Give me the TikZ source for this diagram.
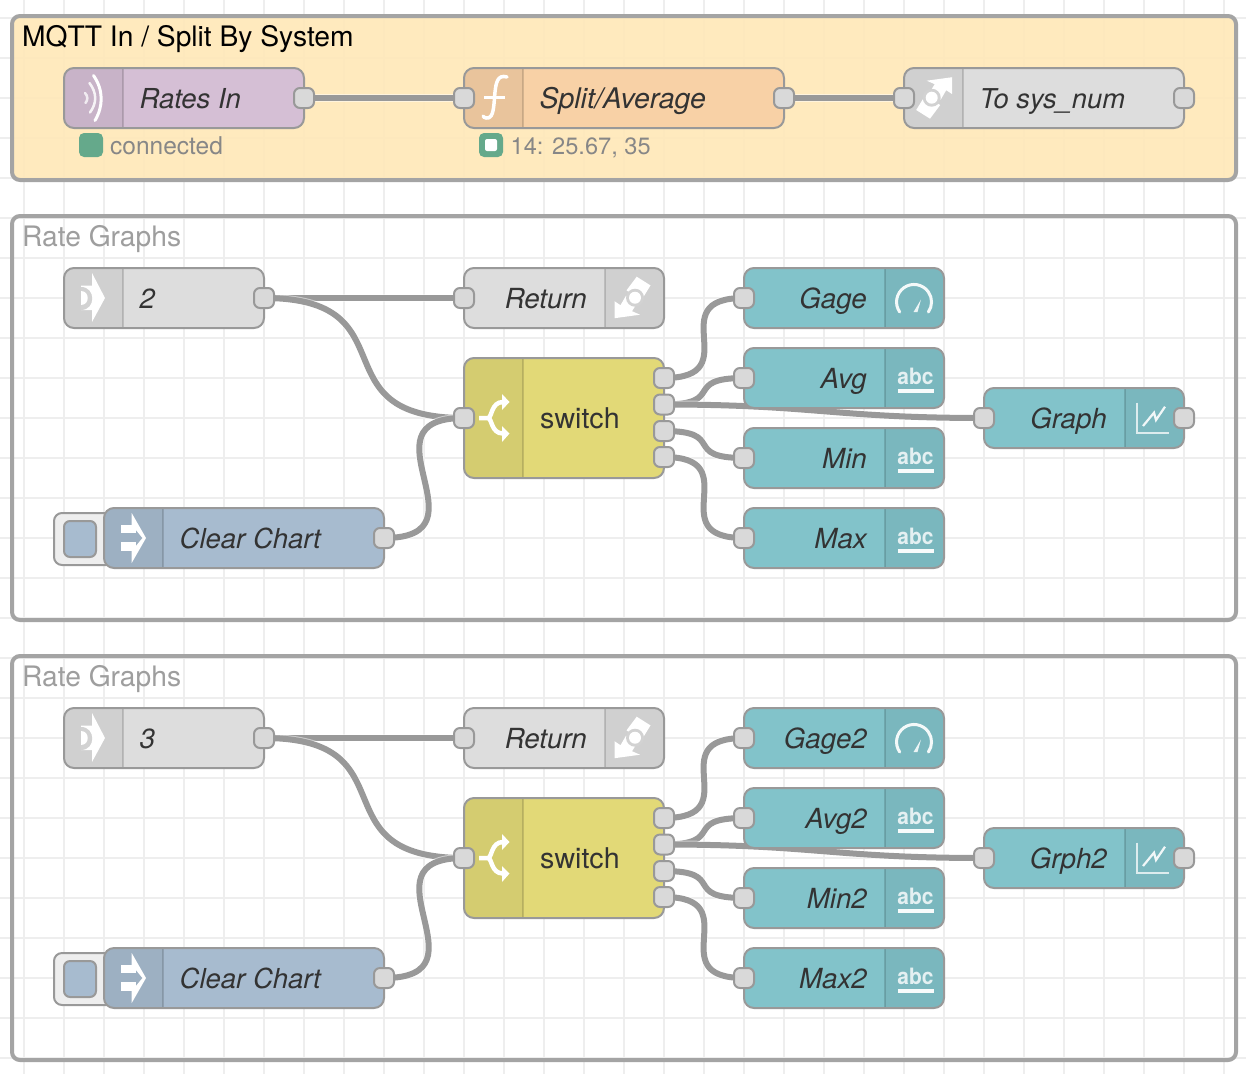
\documentclass[tikz,border=0pt]{standalone}
\usepackage{fontspec}
\setmainfont{TeX Gyre Heros}
\definecolor{gridc}{HTML}{EEEEEE}
\definecolor{frame}{HTML}{A4A4A4}
\definecolor{edge}{HTML}{999999}
\definecolor{portc}{HTML}{D9D9D9}
\definecolor{txt}{HTML}{333333}
\definecolor{grp}{HTML}{FFE8B8}
\definecolor{mq}{HTML}{D5BFD5}
\definecolor{fnc}{HTML}{F8D1A6}
\definecolor{lnk}{HTML}{DDDDDD}
\definecolor{swc}{HTML}{E2D977}
\definecolor{dash}{HTML}{82C3CA}
\definecolor{inj}{HTML}{A7BBCF}
\definecolor{stat}{HTML}{65A98B}
\pgfdeclarelayer{back}
\pgfdeclarelayer{wires}
\pgfsetlayers{back,wires,main}
\tikzset{
  nrbody/.style={rounded corners=10pt,inner sep=0pt,outer sep=0pt,minimum height=60pt,anchor=north west},
  nredge/.style={draw=edge,line width=2pt,rounded corners=10pt},
  shadefill/.style={fill=black,fill opacity=0.06},
  sepline/.style={draw=black,draw opacity=0.14,line width=2pt},
  port/.style={draw=edge,fill=portc,line width=2pt,rounded corners=6pt,minimum size=20pt,inner sep=0pt,outer sep=0pt},
  wire/.style={draw=edge,line width=6pt,preaction={draw=white,draw opacity=0.5,line width=8pt}},
  lab/.style={font=\fontsize{27.7}{32}\selectfont\itshape,text=txt,inner sep=0pt},
  labn/.style={font=\fontsize{27.5}{32}\selectfont\itshape,text=txt,inner sep=0pt},
  plainlab/.style={font=\fontsize{28.6}{32}\selectfont,text=txt,inner sep=0pt},
  statlab/.style={font=\fontsize{24.5}{28}\selectfont,text=black!47,inner sep=0pt,anchor=base west},
  group/.style={draw=frame,line width=4pt,rounded corners=8pt},
  grouptitle/.style={font=\fontsize{28.2}{32}\selectfont,inner sep=0pt,anchor=base west},
  iconw/.style={fill=white},
  icons/.style={draw=white,line width=3pt,line cap=round},
}
% name, x0, y0, width, fill
\newcommand\nrleft[5]{%
  \node[nrbody,fill=#5,minimum width=#4 pt] (#1) at (#2,#3) {};
  \begin{scope}
    \clip[rounded corners=10pt] (#1.north west) rectangle (#1.south east);
    \fill[shadefill] (#1.north west) rectangle ++(59,60);
  \end{scope}
  \draw[sepline] ({#2+59},#3) -- ++(0,60);
  \draw[nredge] (#1.north west) rectangle (#1.south east);
}
\newcommand\nrright[6]{% name,x0,y0,width,fill,iconwidth
  \node[nrbody,fill=#5,minimum width=#4 pt] (#1) at (#2,#3) {};
  \begin{scope}
    \clip[rounded corners=10pt] (#1.north west) rectangle (#1.south east);
    \fill[shadefill] ({#2+#4-#6},#3) rectangle ++(#6,60);
  \end{scope}
  \draw[sepline] ({#2+#4-#6},#3) -- ++(0,60);
  \draw[nredge] (#1.north west) rectangle (#1.south east);
}
\newcommand\wirecurve[3]{\draw[wire] (#1.center) .. controls +(#3,0) and +(-#3,0) .. (#2.center);}
\newcommand\iconabc[2]{%
  \node[font=\fontsize{22.5}{24}\selectfont\bfseries,text=white,text opacity=0.8,inner sep=0pt,anchor=base,xscale=0.93,transform shape] (#1) at (915.5,{#2+36}) {abc};
  \fill[white,fill opacity=0.95] (897.5,{#2+40.5}) rectangle (934,{#2+44.5});
}
\newcommand\iconlinkin[1]{%
  \begin{scope}[shift={(0,#1)}]
  \fill[iconw] (92,273) -- (105,298) -- (92,322) -- (92,310) -- (81,310) -- (81,285.5) -- (92,285.5) -- cycle;
  \fill[black!5!lnk] (81,286.5) .. controls (96,286.5) and (96,309.5) .. (81,309.5) -- cycle;
  \fill[iconw] (81,291) .. controls (90,291) and (90,305) .. (81,305) -- cycle;
  \end{scope}
}
\newcommand\iconlinkoutshape{%
  \fill[iconw] (-5,-17) -- (20.5,-20.5) -- (20.5,-3.5) -- (14.5,-7.5) -- (9,2) -- (-3,-4) -- (3,-13.5) -- cycle;
  \fill[iconw] (-15.5,12.3) -- (-6.7,-2) -- (8.5,7.3) -- (-1.7,21) -- cycle;
  \fill[black!5!lnk] (0,0) circle (9pt);
  \fill[iconw] (0,0) circle (6pt);
}
\newcommand\iconinject[1]{%
  \begin{scope}[shift={(0,#1)}]
  \fill[iconw] (131.7,513) -- (146,538) -- (131.7,563) -- (131.7,551) -- (142.5,538) -- (131.7,525) -- cycle;
  \fill[iconw] (120.7,525) rectangle (136,533);
  \fill[iconw] (120.7,542) rectangle (136,551);
  \end{scope}
}
\newcommand\iconswitch[1]{%
  \begin{scope}[shift={(0,#1)}]
  \draw[draw=white,line width=4.5pt] (479,418) -- (488,418) .. controls (492,418) and (491,402) .. (503,402);
  \draw[draw=white,line width=4.5pt] (488,418) .. controls (492,418) and (491,433.5) .. (503,433.5);
  \fill[iconw] (502,394) -- (509.5,402) -- (502,410) -- cycle;
  \fill[iconw] (502,426) -- (509.5,433.5) -- (502,442) -- cycle;
  \end{scope}
}
\newcommand\icongauge[1]{%
  \begin{scope}[shift={(0,#1)}]
  \draw[icons,draw opacity=0.92] (899.7,312) arc[start angle=215,end angle=-35,radius=17.5pt];
  \fill[white,fill opacity=0.85] (913.5,312) -- (917.5,312) -- (921,299.5) -- cycle;
  \end{scope}
}
\newcommand\iconchart[1]{%
  \begin{scope}[shift={(0,#1)}]
  \draw[draw=white,draw opacity=0.75,line width=2pt] (1136.7,402.7) -- (1136.7,433.3) -- (1169,433.3);
  \draw[draw=white,draw opacity=0.9,line width=2.2pt] (1143,426) -- (1154,412.7) -- (1156,420) -- (1165,406.7);
  \end{scope}
}
% prefix, y offset, number, gage, avg, min, max, graph
\newcommand\ratesection[8]{%
\begin{scope}[shift={(0,#2)}]
  % link in
  \nrleft{#1in}{64}{268}{200}{lnk}
  \iconlinkin{0}
  \node[lab,anchor=base west] (#1inlab) at (139.5,308) {#3};
  \node[port] (#1inout) at (264,298) {};
  % return
  \nrright{#1ret}{464}{268}{200}{lnk}{59}
  \begin{scope}[shift={(635,297.7)},rotate=180]\iconlinkoutshape\end{scope}
  \node[lab,anchor=base east] (#1retlab) at (587,308) {Return};
  \node[port] (#1retin) at (464,298) {};
  % switch
  \node[nrbody,fill=swc,minimum width=200pt,minimum height=120pt] (#1sw) at (464,358) {};
  \begin{scope}
    \clip[rounded corners=10pt] (#1sw.north west) rectangle (#1sw.south east);
    \fill[shadefill] (#1sw.north west) rectangle ++(59,120);
  \end{scope}
  \draw[sepline] (523,358) -- ++(0,120);
  \draw[nredge] (#1sw.north west) rectangle (#1sw.south east);
  \iconswitch{0}
  \node[plainlab,anchor=base west] (#1swlab) at (540,428.5) {switch};
  \node[port] (#1swin) at (464,418) {};
  \node[port] (#1sw1) at (664,378) {};
  \node[port] (#1sw2) at (664,404.5) {};
  \node[port] (#1sw3) at (664,431) {};
  \node[port] (#1sw4) at (664,457) {};
  % inject
  \node[draw=edge,fill=gridc,line width=2pt,rounded corners=8pt,minimum width=60pt,minimum height=52pt,inner sep=0pt,anchor=north west] (#1btn) at (53,512) {};
  \node[draw=edge,fill=inj,line width=2pt,rounded corners=6pt,minimum width=32pt,minimum height=36pt,inner sep=0pt,anchor=north west] (#1btnin) at (63,520) {};
  \nrleft{#1inj}{104}{508}{280}{inj}
  \iconinject{0}
  \node[labn,anchor=base west] (#1injlab) at (179.5,548) {Clear Chart};
  \node[port] (#1injout) at (384,538) {};
  % dashboard outputs
  \nrright{#1g}{744}{268}{200}{dash}{59}
  \icongauge{0}
  \node[lab,anchor=base east] (#1glab) at (867,308) {#4};
  \node[port] (#1gin) at (744,298) {};
  \nrright{#1a}{744}{348}{200}{dash}{59}
  \iconabc{#1aic}{348}
  \node[lab,anchor=base east] (#1alab) at (867,388) {#5};
  \node[port] (#1ain) at (744,378) {};
  \nrright{#1m}{744}{428}{200}{dash}{59}
  \iconabc{#1mic}{428}
  \node[lab,anchor=base east] (#1mlab) at (867,468) {#6};
  \node[port] (#1min) at (744,458) {};
  \nrright{#1x}{744}{508}{200}{dash}{59}
  \iconabc{#1xic}{508}
  \node[lab,anchor=base east] (#1xlab) at (867,548) {#7};
  \node[port] (#1xin) at (744,538) {};
  \nrright{#1c}{984}{388}{200}{dash}{59}
  \iconchart{0}
  \node[lab,anchor=base east] (#1clab) at (1107,428) {#8};
  \node[port] (#1cin) at (984,418) {};
  \node[port] (#1cout) at (1184,418) {};
  % wires
  \begin{pgfonlayer}{wires}
    \wirecurve{#1inout}{#1retin}{150}
    \wirecurve{#1inout}{#1swin}{150}
    \wirecurve{#1injout}{#1swin}{108}
    \wirecurve{#1sw1}{#1gin}{85}
    \wirecurve{#1sw2}{#1ain}{63}
    \wirecurve{#1sw2}{#1cin}{150}
    \wirecurve{#1sw3}{#1min}{63}
    \wirecurve{#1sw4}{#1xin}{85}
  \end{pgfonlayer}
\end{scope}
}
\begin{document}
\begin{tikzpicture}[x=1pt,y=-1pt]
\useasboundingbox (0,0) rectangle (1246,1074);
\begin{pgfonlayer}{back}
  \fill[white] (0,0) rectangle (1246,1074);
  \foreach \gx in {24,64,...,1224} \draw[gridc,line width=2pt] (\gx,0) -- (\gx,1074);
  \foreach \gy in {18,58,...,1058} \draw[gridc,line width=2pt] (0,\gy) -- (1246,\gy);
  \fill[grp,fill opacity=0.9] (12,16) [rounded corners=8pt] rectangle (1236,180);
  \draw[group] (12,16) rectangle (1236,180);
  \draw[group] (12,216) rectangle (1236,620);
  \draw[group] (12,656) rectangle (1236,1060);
\end{pgfonlayer}
\node[grouptitle,text=black] (t1) at (22,46) {MQTT In / Split By System};
\node[grouptitle,text=black!38] (t2) at (22,246) {Rate Graphs};
\node[grouptitle,text=black!38] (t3) at (22,686) {Rate Graphs};
% Rates In
\nrleft{rates}{64}{68}{240}{mq}
\draw[draw=white,line width=3pt,line cap=round] (93.5,75.5) .. controls (103.5,90) and (103.5,106) .. (95,120.5);
\draw[draw=white,draw opacity=0.85,line width=2.5pt,line cap=round] (89.5,83) .. controls (97,93) and (97,103) .. (90,112.5);
\draw[draw=white,draw opacity=0.75,line width=2.5pt,line cap=round] (85,93) .. controls (88,96) and (88,100) .. (85.5,103);
\node[labn,anchor=base west] (rateslab) at (139.5,108) {Rates In};
\node[port] (ratesout) at (304,98) {};
\node[fill=stat,rounded corners=5pt,minimum size=24pt,inner sep=0pt] (s1) at (91,145) {};
\node[statlab] (s1t) at (110,154) {connected};
% Split/Average
\nrleft{split}{464}{68}{320}{fnc}
\draw[draw=white,line width=3.5pt,line cap=round] (507,77) .. controls (497,74) and (496,84) .. (495,92) .. controls (494,102) and (494,114) .. (490,117) .. controls (488,119) and (484,118) .. (483,116);
\draw[draw=white,line width=3pt] (484,97.5) -- (505,97.5);
\node[lab,font=\fontsize{28.4}{32}\selectfont\itshape,anchor=base west] (splitlab) at (539.5,108) {Split/Average};
\node[port] (splitin) at (464,98) {};
\node[port] (splitout) at (784,98) {};
\node[fill=stat,rounded corners=5pt,minimum size=24pt,inner sep=0pt] (s2) at (491,145) {};
\node[fill=white,rounded corners=2pt,minimum size=12pt,inner sep=0pt] (s2i) at (491,145) {};
\node[statlab,font=\fontsize{23.6}{28}\selectfont] (s2t) at (510.5,154) {14: 25.67, 35};
% To sys_num
\nrleft{tosys}{904}{68}{280}{lnk}
\begin{scope}[shift={(931.7,97.7)}]\iconlinkoutshape\end{scope}
\node[lab,font=\fontsize{27.3}{32}\selectfont\itshape,anchor=base west] (tosyslab) at (979.5,108) {To sys\_num};
\node[port] (tosysin) at (904,98) {};
\node[port] (tosysout) at (1184,98) {};
\begin{pgfonlayer}{wires}
  \wirecurve{ratesout}{splitin}{150}
  \wirecurve{splitout}{tosysin}{150}
\end{pgfonlayer}
\ratesection{p}{0}{2}{Gage}{Avg}{Min}{Max}{Graph}
\ratesection{q}{440}{3}{Gage2}{Avg2}{Min2}{Max2}{Grph2}
\end{tikzpicture}
\end{document}
